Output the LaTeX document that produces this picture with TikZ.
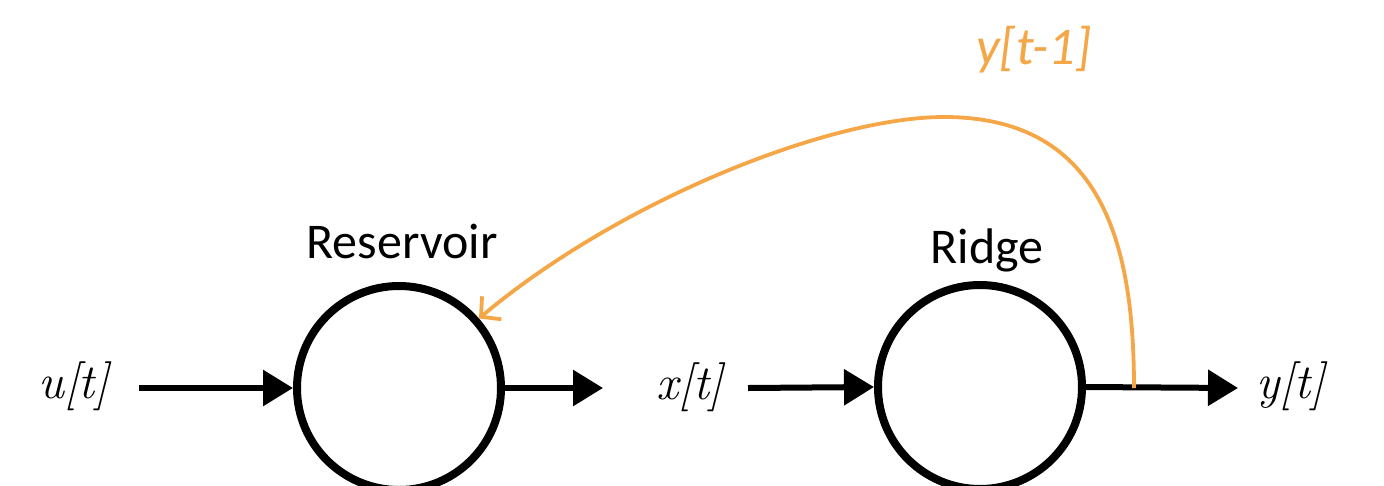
\documentclass[tikz,border=0pt]{standalone}
\usepackage{fontspec}
\setmainfont{Carlito}
\usetikzlibrary{arrows.meta}
\definecolor{fborange}{RGB}{245,167,72}
\begin{document}
\begin{tikzpicture}[x=1pt,y=-1pt,
  unit/.style={circle,draw=black,line width=8pt,minimum size=204pt,inner sep=0pt},
  flow/.style={line width=6pt,-{Triangle[length=30pt,width=35pt]}},
  sig/.style={font=\fontsize{49}{51}\selectfont,anchor=base,inner sep=0pt},
  ttl/.style={font=\fontsize{50}{52}\selectfont,anchor=base,inner sep=0pt},
  fb/.style={draw=fborange,line width=3.8pt,-{Straight Barb[length=14pt,width=30pt,line width=3.8pt]}}
]
\useasboundingbox (0,0) rectangle (1384,485);
\clip (0,0) rectangle (1384,485);
% units
\node[unit] (res) at (399,388) {};
\node[unit] (rid) at (980,387) {};
% titles
\node[ttl] (tres) at (402,258) {Reservoir};
\node[ttl] (trid) at (987,263) {Ridge};
% signals
\node[sig] (u) at (74,398) {\fontspec{Latin Modern Roman}\itshape u[t]};
\node[sig] (x) at (690,399) {\fontspec{Latin Modern Roman}\itshape x[t]};
\node[sig] (y) at (1291,398) {\fontspec{Latin Modern Roman}\itshape y[t]};
\node[anchor=base,inner sep=0pt,text=fborange,font=\fontsize{53}{55}\selectfont\itshape] (ym) at (1034,64) {y[t-1]};
% connector anchors
\coordinate (a1) at (139,388);
\coordinate (a2) at (603,388);
\coordinate (a3) at (748,388);
\coordinate (a4) at (1238,388);
\coordinate (fs) at (1134,388);
\coordinate (ftop) at (944,117);
% arrows
\draw[flow] (a1) -- (res.west);
\draw[flow] (res.east) -- (a2);
\draw[flow] (a3) -- (rid.west);
\draw[flow] (rid.east) -- (a4);
% feedback
\draw[fb] (fs) .. controls (1134,240) and (1100,117) .. (ftop)
  .. controls (830,117) and (620,200) .. (res.41);
\end{tikzpicture}
\end{document}
